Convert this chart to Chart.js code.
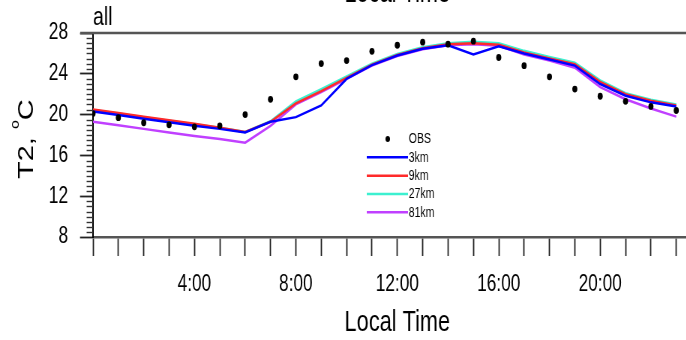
<!DOCTYPE html>
<html>
<head>
<meta charset="utf-8">
<title>T2 diurnal cycle</title>
<script src="https://cdn.jsdelivr.net/npm/chart.js@4"></script>
<style>
  html, body { margin: 0; padding: 0; overflow: hidden; background: #fff; }
  /* drawn wide, then squeezed horizontally like the original panel */
  #wrap { width: 950px; height: 340px; transform: scaleX(0.75); transform-origin: 0 0; }
</style>
</head>
<body>
<div id="wrap"><canvas id="t2Chart"></canvas></div>
<script>
// hourly means, local time
const hours = [0, 1, 2, 3, 4, 5, 6, 7, 8, 9, 10, 11, 12, 13, 14, 15, 16, 17, 18, 19, 20, 21, 22, 23];
const obs  = [20.1, 19.7, 19.2, 19.0, 18.8, 18.9, 20.0, 21.5, 23.7, 25.0, 25.3, 26.2, 26.8, 27.1, 26.9, 27.2, 25.6, 24.8, 23.7, 22.5, 21.8, 21.3, 20.8, 20.4];
const km3  = [20.3, 19.95, 19.6, 19.25, 18.9, 18.6, 18.25, 19.3, 19.75, 20.9, 23.5, 24.85, 25.8, 26.45, 26.8, 25.9, 26.7, 26.0, 25.4, 24.8, 23.0, 21.85, 21.2, 20.8];
const km9  = [20.5, 20.15, 19.8, 19.45, 19.1, 18.7, 18.3, 19.3, 21.1, 22.3, 23.6, 24.9, 25.85, 26.5, 26.9, 27.0, 26.85, 26.1, 25.5, 24.95, 23.2, 22.0, 21.35, 20.9];
const km27 = [20.45, 20.1, 19.75, 19.4, 19.05, 18.7, 18.3, 19.35, 21.3, 22.5, 23.75, 25.0, 25.95, 26.6, 27.0, 27.15, 27.0, 26.25, 25.65, 25.1, 23.35, 22.1, 21.45, 21.0];
const km81 = [19.3, 18.95, 18.6, 18.25, 17.9, 17.6, 17.25, 18.9, 21.0, 22.2, 23.5, 24.8, 25.75, 26.4, 26.8, 26.9, 26.75, 25.9, 25.3, 24.6, 22.7, 21.5, 20.6, 19.8];

const seriesNames = ['OBS', '3km', '9km', '27km', '81km'];
const xLabelHours = [4, 8, 12, 16, 20];
const yTicks = [8, 12, 16, 20, 24, 28];

const FONT = "'Liberation Sans', Arial, Helvetica, sans-serif";
const colors = ['#000000', '#0000ff', '#ff2a2a', '#3cf0d0', '#c040ff'];

const toPoints = vals => hours.map((h, i) => ({ x: h, y: vals[i] }));

const datasets = [
  {
    label: seriesNames[0],
    data: toPoints(obs),
    showLine: false,
    pointRadius: 3.4,
    pointBackgroundColor: colors[0],
    pointBorderWidth: 0
  }
];
[km3, km9, km27, km81].forEach((vals, i) => {
  datasets.push({
    label: seriesNames[i + 1],
    data: toPoints(vals),
    borderColor: colors[i + 1],
    borderWidth: 2.5,
    pointRadius: 0,
    tension: 0
  });
});

// frame, minor ticks, titles and the in-plot legend
const panelDecor = {
  id: 'panelDecor',
  afterDraw(chart) {
    const { ctx, chartArea: a, scales } = chart;
    const y = scales.y;
    ctx.save();

    // minor ticks on the y axis
    ctx.strokeStyle = '#333';
    ctx.lineWidth = 1.4;
    for (let v = y.min; v <= y.max; v += 0.5) {
      if (v % 4 === 0) continue;
      const py = Math.round(y.getPixelForValue(v)) + 0.5;
      ctx.beginPath();
      ctx.moveTo(a.left - 8.5, py);
      ctx.lineTo(a.left, py);
      ctx.stroke();
    }

    // top frame line
    ctx.strokeStyle = '#555';
    ctx.lineWidth = 2.5;
    ctx.beginPath();
    ctx.moveTo(a.left - 17, a.top);
    ctx.lineTo(a.right, a.top);
    ctx.stroke();

    ctx.fillStyle = '#000';

    // panel label
    ctx.font = `26px ${FONT}`;
    ctx.textAlign = 'left';
    ctx.textBaseline = 'alphabetic';
    ctx.fillText('all', a.left, 25);

    // x title of the panel above, cut by the top edge
    ctx.font = `29px ${FONT}`;
    ctx.textAlign = 'center';
    ctx.fillText('Local Time', (a.left + a.right) / 2, 2);

    // y title with superscript degree
    ctx.translate(44, 179);
    ctx.rotate(-Math.PI / 2);
    ctx.textAlign = 'left';
    ctx.font = `29px ${FONT}`;
    const head = 'T2, ';
    ctx.fillText(head, 0, 0);
    let off = ctx.measureText(head).width;
    ctx.font = `16px ${FONT}`;
    ctx.fillText('o', off, -19);
    off += ctx.measureText('o').width;
    ctx.font = `29px ${FONT}`;
    ctx.fillText('C', off, 0);
    ctx.restore();

    // legend
    ctx.save();
    const lx = 489, tx = 545, rows = [139, 157.3, 175.7, 194, 212.3];
    ctx.font = `14px ${FONT}`;
    ctx.textAlign = 'left';
    ctx.textBaseline = 'middle';
    chart.data.datasets.forEach((ds, i) => {
      const ry = rows[i];
      if (i === 0) {
        ctx.fillStyle = ds.pointBackgroundColor;
        ctx.beginPath();
        ctx.arc(517, ry, 3, 0, Math.PI * 2);
        ctx.fill();
      } else {
        ctx.strokeStyle = ds.borderColor;
        ctx.lineWidth = 2.6;
        ctx.beginPath();
        ctx.moveTo(lx, ry);
        ctx.lineTo(tx - 1, ry);
        ctx.stroke();
      }
      ctx.fillStyle = '#000';
      ctx.fillText(ds.label, tx, ry + 0.5);
    });
    ctx.restore();
  }
};

new Chart(document.getElementById('t2Chart'), {
  type: 'line',
  data: { datasets },
  options: {
    responsive: true,
    maintainAspectRatio: false,
    animation: false,
    devicePixelRatio: 1,
    layout: { padding: { top: 33, right: 7.3, left: 0, bottom: 0 } },
    plugins: {
      legend: { display: false },
      tooltip: { enabled: false }
    },
    scales: {
      x: {
        type: 'linear',
        min: 0,
        max: 24,
        afterFit: s => { s.height = 103; },
        afterBuildTicks: s => { s.ticks = hours.concat([24]).map(v => ({ value: v })); },
        grid: {
          drawOnChartArea: false,
          tickLength: 19,
          tickColor: '#222',
          tickWidth: 1.8
        },
        border: { color: '#555', width: 2.5 },
        ticks: {
          autoSkip: false,
          maxRotation: 0,
          padding: 14.5,
          color: '#000',
          font: { family: FONT, size: 23 },
          callback: v => xLabelHours.includes(v) ? `${v}:00` : ''
        },
        title: {
          display: true,
          text: 'Local Time',
          color: '#000',
          font: { family: FONT, size: 29 },
          padding: { top: 0, bottom: 0 }
        }
      },
      y: {
        min: yTicks[0],
        max: yTicks[yTicks.length - 1],
        afterFit: s => { s.width = 124; },
        afterBuildTicks: s => { s.ticks = yTicks.map(v => ({ value: v })); },
        grid: {
          drawOnChartArea: false,
          tickLength: 17.3,
          tickColor: '#222',
          tickWidth: 1.8
        },
        border: { color: '#000', width: 2 },
        ticks: {
          padding: 16,
          color: '#000',
          font: { family: FONT, size: 23 }
        }
      }
    }
  },
  plugins: [panelDecor]
});
</script>
</body>
</html>
